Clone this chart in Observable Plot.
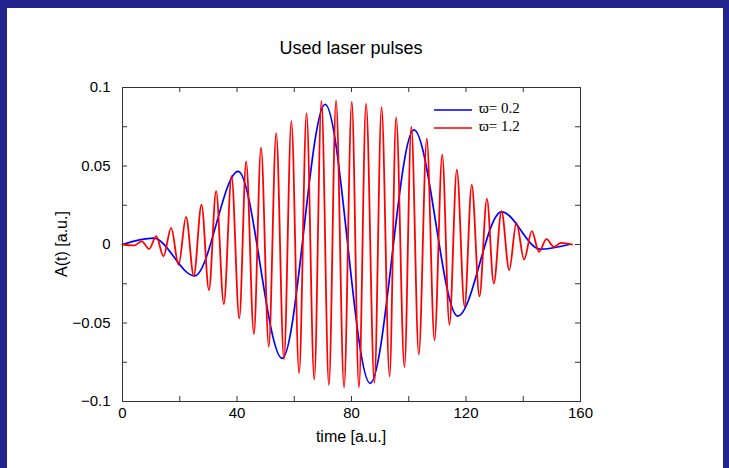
<!DOCTYPE html>
<html>
<head>
<meta charset="utf-8">
<script src="https://cdn.jsdelivr.net/npm/d3@7"></script>
<script src="https://cdn.jsdelivr.net/npm/@observablehq/plot@0.6"></script>
<style>
  body { margin: 0; background: #fff; }
  #wrap { position: relative; width: 729px; height: 468px; overflow: hidden; background: #fff;
          font-family: "Liberation Sans", Arial, Helvetica, sans-serif; color: #000; }
  .bar { position: absolute; background: #23238e; }
  #chart { position: absolute; left: 0; top: 0; }
  .lbl { position: absolute; white-space: nowrap; transform: translate(-50%, -50%); }
  .leg { position: absolute; white-space: nowrap; font-family: "Liberation Serif", "Times New Roman", serif; font-size: 15px; }
  .legline { position: absolute; height: 2px; }
</style>
</head>
<body>
<div id="wrap">
  <div id="chart"></div>
  <div class="bar" style="left:0;top:0;width:729px;height:8px"></div>
  <div class="bar" style="left:0;top:0;width:7px;height:468px"></div>
  <div class="bar" style="right:0;top:0;width:6px;height:468px"></div>
  <div class="lbl" style="left:351px;top:48px;font-size:18px">Used laser pulses</div>
  <div class="lbl" style="left:351px;top:437px;font-size:16px">time [a.u.]</div>
  <div class="lbl" style="left:62px;top:244px;font-size:16px;transform:translate(-50%,-50%) rotate(-90deg)">A(t) [a.u.]</div>
  <div class="legline" style="left:434px;top:109px;width:38px;background:#3b3bff"></div>
  <div class="legline" style="left:434px;top:127px;width:38px;background:#ff3b3b"></div>
  <div class="leg" style="left:479px;top:100px">ϖ= 0.2</div>
  <div class="leg" style="left:479px;top:118px">ϖ= 1.2</div>
</div>
<script>
// ---- data (extrema of each pulse) ----
const blueT = [0, 10.8, 25.2, 40.4, 55.8, 70.8, 86.5, 101.8, 117.1, 132.4, 146.0, 156.0];
const blueA = [0, 0.004, -0.020, 0.0466, -0.0725, 0.0893, -0.0884, 0.073, -0.0456, 0.0208, -0.003, 0];

const redT = [0, 4.1, 6.7, 9.3, 11.8, 14.3, 17.0, 19.6, 22.2, 24.9, 27.6, 30.2, 32.7, 35.4, 38.1, 40.8,
  43.2, 45.9, 48.4, 51.1, 53.7, 56.4, 59.0, 61.7, 64.3, 67.0, 69.5, 72.1, 74.6, 77.4, 80.1, 82.6,
  85.1, 88.0, 90.5, 93.3, 95.6, 98.5, 100.9, 103.5, 106.3, 109.0, 111.7, 114.2, 116.8, 119.5, 122.0,
  124.7, 127.3, 129.7, 132.4, 135.1, 137.6, 140.3, 143.0, 145.5, 148.1, 150.7, 153.2, 157.0];
const redA = [0, -0.0006, 0.002, -0.0028, 0.0053, -0.0075, 0.0106, -0.013, 0.0176, -0.020, 0.0254, -0.029,
  0.034, -0.038, 0.0435, -0.047, 0.053, -0.057, 0.0617, -0.065, 0.071, -0.073, 0.0785, -0.082, 0.0837,
  -0.086, 0.0915, -0.0895, 0.0918, -0.091, 0.091, -0.091, 0.0897, -0.088, 0.0875, -0.084, 0.081, -0.078,
  0.075, -0.070, 0.0674, -0.061, 0.0572, -0.051, 0.0477, -0.0396, 0.038, -0.033, 0.029, -0.0248, 0.0212,
  -0.0163, 0.0138, -0.0095, 0.0085, -0.0047, 0.0034, -0.0015, 0.001, 0];

const xTickLabels = [0, 40, 80, 120, 160];
const xTicks = [0, 20, 40, 60, 80, 100, 120, 140, 160];
const yTickLabels = [-0.1, -0.05, 0, 0.05, 0.1];
const yTicks = [-0.1, -0.075, -0.05, -0.025, 0, 0.025, 0.05, 0.075, 0.1];

const blue = blueT.map((t, i) => ({t, a: blueA[i]}));
const red = redT.map((t, i) => ({t, a: redA[i]}));

const W = 729, H = 468, mL = 122, mR = 149, mT = 87, mB = 67;
const iW = W - mL - mR, iH = H - mT - mB;
const fmt = d => d === 0 ? "0" : String(d).replace("-", "\u2212");

const chart = Plot.plot({
  width: W, height: H,
  marginLeft: mL, marginRight: mR, marginTop: mT, marginBottom: mB,
  style: {fontFamily: "Liberation Sans, Arial, Helvetica, sans-serif", fontSize: "15px", background: "transparent", color: "#000"},
  x: {domain: [0, 160]},
  y: {domain: [-0.1, 0.1]},
  marks: [
    Plot.tickX(xTicks, {x: d => d, insetTop: iH - 5, stroke: "#333"}),
    Plot.tickX(xTicks, {x: d => d, insetBottom: iH - 5, stroke: "#333"}),
    Plot.tickY(yTicks, {y: d => d, insetRight: iW - 5, stroke: "#333"}),
    Plot.tickY(yTicks, {y: d => d, insetLeft: iW - 5, stroke: "#333"}),
    Plot.axisX(xTickLabels, {tickSize: 0, tickPadding: 6, label: null, fontSize: 15}),
    Plot.axisY(yTickLabels, {tickSize: 0, tickPadding: 12, label: null, tickFormat: fmt, fontSize: 15}),
    Plot.line(blue, {x: "t", y: "a", stroke: "#0000ff", strokeWidth: 1.7, curve: "monotone-x"}),
    Plot.line(red, {x: "t", y: "a", stroke: "#ff0000", strokeWidth: 1.8, curve: "monotone-x"}),
    Plot.frame({stroke: "#333"})
  ]
});
document.getElementById("chart").appendChild(chart);
</script>
</body>
</html>
